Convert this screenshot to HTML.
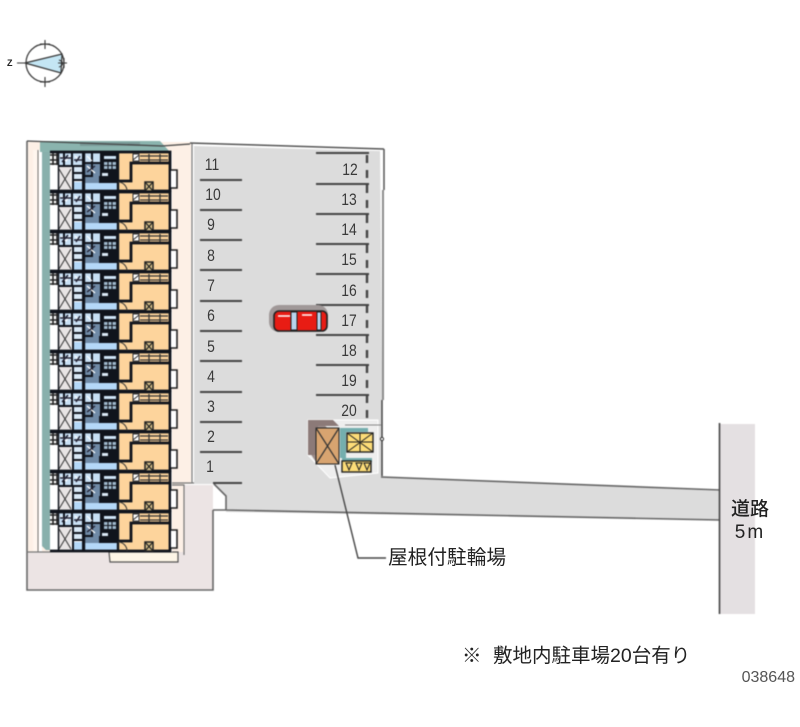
<!DOCTYPE html>
<html><head><meta charset="utf-8"><style>
html,body{margin:0;padding:0;background:#fff}
svg{display:block}
text{font-family:"Liberation Sans","Noto Sans CJK JP",sans-serif;fill:#222}
.n{font-size:17px;fill:#3a3a3a;text-anchor:middle;transform-box:fill-box;transform-origin:center;transform:scaleX(.82)}
.b{filter:blur(.4px)}
</style></head><body>
<svg width="800" height="727" viewBox="0 0 800 727" xmlns="http://www.w3.org/2000/svg">
<defs>
<g id="u">
<rect x="50" y="0" width="122" height="40" fill="#fff"/>
<rect x="118" y="1" width="52" height="38" fill="#fdd49c"/>
<rect x="59" y="15" width="12" height="24" fill="#e8e4e4"/>
<path d="M59 17L71 37M71 17L59 37" stroke="#333" stroke-width="1" fill="none"/>
<rect x="73" y="30" width="10" height="9" fill="#b4d8f8"/>
<path d="M84 38V31H93V24H98V31H118V38Z" fill="#b4d8f8"/>
<rect x="59" y="1" width="24" height="13" fill="#c8e0f4"/>
<rect x="85" y="1" width="15" height="10" fill="#c8e0f4"/>
<rect x="84" y="11" width="16" height="20" fill="#6f8aa6"/>
<rect x="100" y="1" width="18" height="30" fill="#10141c"/>
<rect x="104" y="4" width="12" height="3" fill="#cfe4f6"/>
<rect x="104" y="10" width="12" height="7" fill="#9fb8cc"/>
<path d="M104 13.500H116M108 10V17M112 10V17" stroke="#10141c"/>
<rect x="102" y="21" width="6" height="3" fill="#dbe9f6"/>
<rect x="73" y="14" width="10" height="14" fill="#d8e8f6"/>
<path d="M59 14H83M64 1V14M72 1V14M73 14V39M83 1V39M73 21H83M73 28H83M85 11H100M92 1V24M85 24H93M100 24V31" stroke="#10141c" stroke-width="2" fill="none"/>
<path d="M50 3h9M50 8h9M50 12h9M53 1v12M57 1v12" stroke="#222" stroke-width="1.6" fill="none"/>
<path d="M61 4l5 5l4 -5M87 4l5 5M87 14l8 7M75 4l5 5" stroke="#fff" stroke-width="1.2" fill="none"/>
<path d="M62 10l6 -7M76 10l4 -6M87 20l8 -6M60 6h12M74 8h8" stroke="#223" stroke-width="1.4" fill="none"/>
<path d="M50 39H170V0H50" fill="none" stroke="#10141c" stroke-width="2.8"/>
<path d="M58.500 0V39" stroke="#10141c" stroke-width="1.5"/>
<path d="M84 0V39M118 0V39" stroke="#10141c" stroke-width="2.4"/>
<path d="M118 29H131V11H170" fill="none" stroke="#10141c" stroke-width="2.8"/>
<path d="M118 30A9 9 0 0 1 127 39" fill="none" stroke="#333" stroke-width="1"/>
<rect x="133" y="2" width="6" height="7" fill="#fff" stroke="#333"/>
<path d="M133 8l6 -5" stroke="#333"/>
<path d="M140 4H168M140 8H168M149 2V10M160 2V10" stroke="#333" stroke-width="1.3" fill="none"/>
<rect x="145" y="30" width="8" height="9" fill="#d8c088" stroke="#222" stroke-width="1.5"/>
<path d="M145 30l8 9M153 30l-8 9" stroke="#222" stroke-width="1.2"/>
<path d="M171 18h6v18h-6" fill="#fff" stroke="#222" stroke-width="1.6"/>
</g>
</defs>

<g class="b">
<!-- compass -->
<circle cx="45" cy="63" r="19" fill="#fff" stroke="#333" stroke-width="1.2"/>
<path d="M25 63L62 54L61 73Z" fill="#c4e6f4" stroke="#333" stroke-width="1.2"/>
<path d="M45 40V49M45 77V87M17 63H26M58 63H67M40 44h10M40 82h10M64 58v10" stroke="#333" stroke-width="1.1" fill="none"/>
<path d="M59 60a7 4 0 0 1 0 7" fill="none" stroke="#333"/>

<!-- site ground -->
<rect x="28" y="142" width="163" height="342" fill="#fdf0e6"/>
<rect x="172" y="484" width="12" height="69" fill="#fdf0e6"/>
<rect x="28" y="484" width="146" height="69" fill="#fdf0e6"/>
<path d="M28 552H184V485H213V589H28Z" fill="#ece4e4"/>
<rect x="33" y="150" width="5" height="402" fill="#fff6ee"/>
<rect x="39" y="150" width="3" height="402" fill="#fff"/>
<path d="M109 552H178V562H110Z" fill="#fdf5e6" stroke="#555" stroke-width="1.2"/>
<path d="M38 150V552" stroke="#777" fill="none"/>
<path d="M42 152H52V550H46L42 546Z" fill="#88b0ac"/>
<path d="M40 141L160 141L170 152H40Z" fill="#8ab4ae"/>
<rect x="80" y="142" width="60" height="4" fill="#7a9a98"/>
<path d="M27 141V590H213V510" fill="none" stroke="#666" stroke-width="1.6"/>
<path d="M27 552H50" stroke="#777" stroke-width="1.3"/>
<path d="M27 141L162 146L190 144" fill="none" stroke="#444" stroke-width="1.2"/>
<path d="M172 483H213M192 483V143M172 485H184V555" fill="none" stroke="#777" stroke-width="1.2"/>

<!-- parking and drive -->
<path d="M194 146L380 151L383 476L720 491V520L226 512V496L213 484H194Z" fill="#dcdcdc"/>
<path d="M190 143L384 149" stroke="#555" stroke-width="1.5" fill="none"/>
<path d="M384 149V190" stroke="#555" stroke-width="1.5"/>
<path d="M383 190V400" stroke="#8c8c8c" stroke-width="2"/>
<path d="M382 400V476" stroke="#444" stroke-width="1.5"/>
<path d="M381 477L720 490M214 484L226 496V510M213 510H226L720 520" fill="none" stroke="#666" stroke-width="1.6"/>
<path d="M213 483H242" stroke="#444" stroke-width="2"/>

<!-- building units -->
<use href="#u" y="152"/><use href="#u" y="192"/><use href="#u" y="232"/><use href="#u" y="272"/><use href="#u" y="312"/>
<use href="#u" y="352"/><use href="#u" y="392"/><use href="#u" y="432"/><use href="#u" y="472"/><use href="#u" y="512"/>

<!-- stall lines -->
<g stroke="#444" stroke-width="2" fill="none">
<path d="M200 180H242M200 210H242M200 240H242M200 270H242M200 301H242M200 331H242M200 361H242M200 392H242M200 422H242M200 452H242"/>
<path d="M316 153H369M316 184H369M316 214H369M316 244H369M316 274H369M316 305H369M316 335H369M316 365H369M316 395H369"/>
<path d="M367 155V423" stroke-width="2.4" stroke-dasharray="8 7"/>
</g>

<!-- car -->
<rect x="269" y="305" width="59" height="27" rx="10" fill="#a09898"/>
<rect x="274" y="311" width="53" height="20" rx="5" fill="#e81c14" stroke="#222" stroke-width="1.6"/>
<path d="M291 312h6v18h-6zM317 312h4v18h-4z" fill="#b8d4ec" stroke="#222"/>
<path d="M278 316h12M302 315h10" stroke="#fff" stroke-width="1.5"/>

<!-- bike shelter -->
<path d="M317 420H378V473L330 478L308 455V420Z" fill="#eeeeee" stroke="#fff"/>
<path d="M381 425H345" stroke="#888" stroke-width="1"/>
<path d="M308 420H333L339 426H318V455H308Z" fill="#8c7a78"/>
<path d="M308 450L316 462H330V430L318 420H308Z" fill="#8c7a78" opacity=".85"/>
<rect x="316" y="428" width="23" height="36" fill="#d8a470" stroke="#222" stroke-width="1"/>
<path d="M316 428L339 464M339 428L316 464" stroke="#333" stroke-width="1.2"/>
<path d="M340 428H368V432H340ZM340 432H346V458H340ZM342 458H372V462H342Z" fill="#74aeae"/>
<rect x="347" y="433" width="26" height="19" fill="#fcdc78" stroke="#222" stroke-width="1.4"/>
<path d="M347 433L373 452M373 433L347 452M360 433V452M347 442H373" stroke="#222" stroke-width="1"/>
<rect x="342" y="461" width="29" height="11" fill="#fcdc78" stroke="#222" stroke-width="1.4"/>
<path d="M346 463l3 7l3 -7zM356 463l3 7l3 -7zM364 463l3 7l3 -7z" fill="none" stroke="#222"/>
<circle cx="382" cy="439" r="1.6" fill="#fff" stroke="#333"/>

<!-- leader -->
<path d="M335 465L358 558H386" fill="none" stroke="#444" stroke-width="1.4"/>

<!-- road -->
<rect x="720" y="424" width="35" height="190" fill="#e4e0e2"/>
<path d="M719.500 423V614" stroke="#444" stroke-width="1.6"/>
</g>

<text x="7" y="66" font-size="9" style="font-weight:bold">Z</text>

<text class="n" x="212" y="170">11</text><text class="n" x="213" y="200">10</text>
<text class="n" x="211" y="230">9</text><text class="n" x="211" y="261">8</text>
<text class="n" x="211" y="291">7</text><text class="n" x="211" y="321">6</text>
<text class="n" x="211" y="352">5</text><text class="n" x="211" y="382">4</text>
<text class="n" x="211" y="412">3</text><text class="n" x="211" y="442">2</text>
<text class="n" x="210" y="472">1</text>
<text class="n" x="350" y="175">12</text><text class="n" x="349" y="205">13</text>
<text class="n" x="349" y="235">14</text><text class="n" x="349" y="265">15</text>
<text class="n" x="349" y="296">16</text><text class="n" x="349" y="326">17</text>
<text class="n" x="349" y="356">18</text><text class="n" x="349" y="386">19</text>
<text class="n" x="349" y="416">20</text>

<text x="388" y="564" font-size="19.700">屋根付駐輪場</text>
<text x="750" y="515" font-size="19" text-anchor="middle" style="font-weight:500">道路</text>
<text x="750" y="538" font-size="19" text-anchor="middle" letter-spacing="2">5m</text>
<text x="462" y="662" font-size="19.500">※</text>
<text x="493" y="662" font-size="19.500">敷地内駐車場20台有り</text>
<text x="795" y="682" font-size="16" text-anchor="end" style="fill:#555">038648</text>
</svg>
</body></html>
